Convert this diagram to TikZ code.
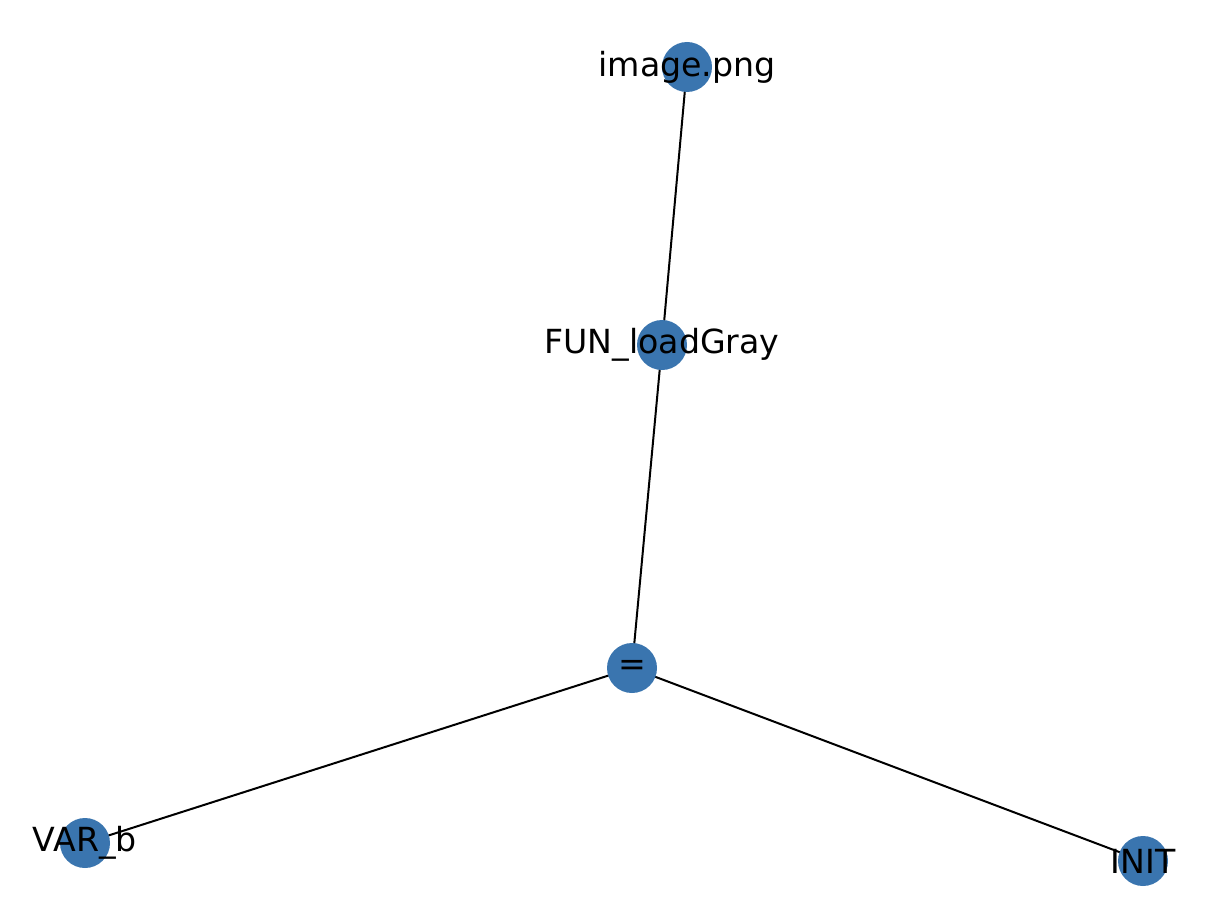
\documentclass[tikz,border=0pt]{standalone}
\usepackage{fontspec}
\setmainfont{DejaVu Sans}
\usetikzlibrary{backgrounds}
\definecolor{nodeblue}{HTML}{3A75AF}
\begin{document}
\begin{tikzpicture}[x=0.5pt,y=-0.5pt,
  vert/.style={circle,fill=nodeblue,minimum size=25pt,inner sep=0pt},
  lbl/.style={font=\fontsize{16.6}{20}\selectfont,text=black,inner sep=0pt},
  edge/.style={draw=black,line width=1pt}]
\useasboundingbox (0,0) rectangle (1230,920);
\node[vert] (img) at (687,67) {};
\node[vert] (fun) at (662,345) {};
\node[vert] (eq) at (632,668) {};
\node[vert] (var) at (85,843) {};
\node[vert] (init) at (1143,861) {};
\begin{scope}[on background layer]
\draw[edge] (img.center) -- (fun.center);
\draw[edge] (fun.center) -- (eq.center);
\draw[edge] (eq.center) -- (var.center);
\draw[edge] (eq.center) -- (init.center);
\end{scope}
\node[lbl] (limg) at (img) {image.png};
\node[lbl] (lfun) at (fun) {FUN\_loadGray};
\node[lbl] (leq) at (eq) {=};
\node[lbl] (lvar) at (var) {VAR\_b};
\node[lbl] (linit) at (init) {INIT};
\end{tikzpicture}
\end{document}
